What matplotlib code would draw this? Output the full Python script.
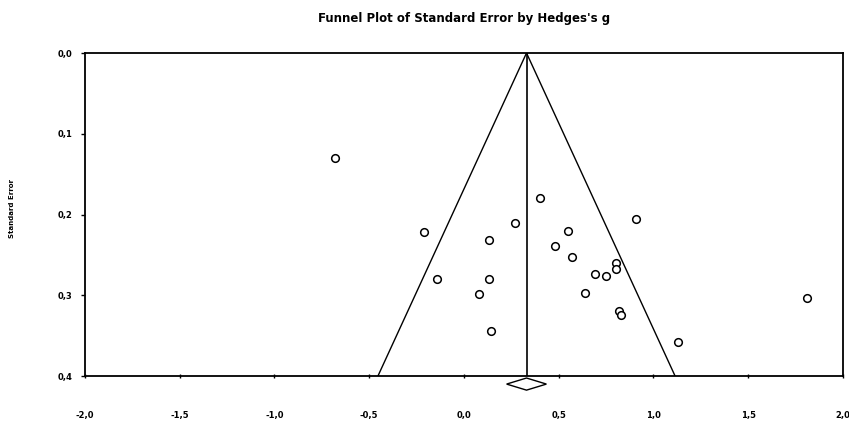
import numpy as np
import matplotlib
matplotlib.use("Agg")
import matplotlib.pyplot as plt
from matplotlib.ticker import FuncFormatter

# study effects (Hedges's g) and standard errors
hedges_g = [-0.68, -0.21, -0.14, 0.13, 0.13, 0.08, 0.14, 0.27, 0.40,
            0.91, 0.55, 0.48, 0.57, 0.80, 0.80, 0.69, 0.75, 0.64,
            0.82, 0.83, 1.13, 1.81]
std_err = [0.130, 0.222, 0.280, 0.231, 0.280, 0.299, 0.344, 0.210, 0.180,
           0.206, 0.220, 0.239, 0.253, 0.260, 0.267, 0.274, 0.276, 0.297,
           0.319, 0.324, 0.358, 0.303]
summary_g = 0.33
ci_low, ci_high = 0.225, 0.435
x_ticks = [-2.0, -1.5, -1.0, -0.5, 0.0, 0.5, 1.0, 1.5, 2.0]
y_ticks = [0.0, 0.1, 0.2, 0.3, 0.4]

fig = plt.figure(figsize=(8.49, 4.23), dpi=100)
ax = fig.add_axes([0.1001, 0.1111, 0.8928, 0.7636])

# funnel (pseudo 95% limits)
se_line = np.array([0.0, 0.4])
ax.plot(summary_g - 1.96 * se_line, se_line, color="black", lw=1.0)
ax.plot(summary_g + 1.96 * se_line, se_line, color="black", lw=1.0)
ax.plot([summary_g, summary_g], se_line, color="black", lw=1.2)

ax.plot(hedges_g, std_err, "o", mfc="white", mec="black", ms=5.5, mew=1.1)

# summary diamond below the axis
dy = 0.0075
yd = 0.41
ax.fill([ci_low, summary_g, ci_high, summary_g],
        [yd, yd - dy, yd, yd + dy], facecolor="white", edgecolor="black",
        lw=1.0, clip_on=False, zorder=5)

ax.set_xlim(-2.0, 2.0)
ax.set_ylim(0.4, 0.0)
ax.set_xticks(x_ticks)
ax.set_yticks(y_ticks)
fmt = FuncFormatter(lambda v, p: ("%.1f" % v).replace(".", ","))
ax.xaxis.set_major_formatter(fmt)
ax.yaxis.set_major_formatter(fmt)
for lab in ax.get_xticklabels() + ax.get_yticklabels():
    lab.set_fontweight("bold")
    lab.set_fontsize(6)
ax.tick_params(axis="x", direction="inout", length=3, pad=24, width=1)
ax.tick_params(axis="y", direction="out", length=3, pad=6, width=1)
for s in ax.spines.values():
    s.set_linewidth(1.3)

ax.set_title("Funnel Plot of Standard Error by Hedges's g",
             fontsize=8.5, fontweight="bold", pad=22)
fig.text(0.014, 0.507, "Standard Error", rotation=90, fontsize=5,
         fontweight="bold", ha="center", va="center")

fig.savefig("out.png", dpi=100)
